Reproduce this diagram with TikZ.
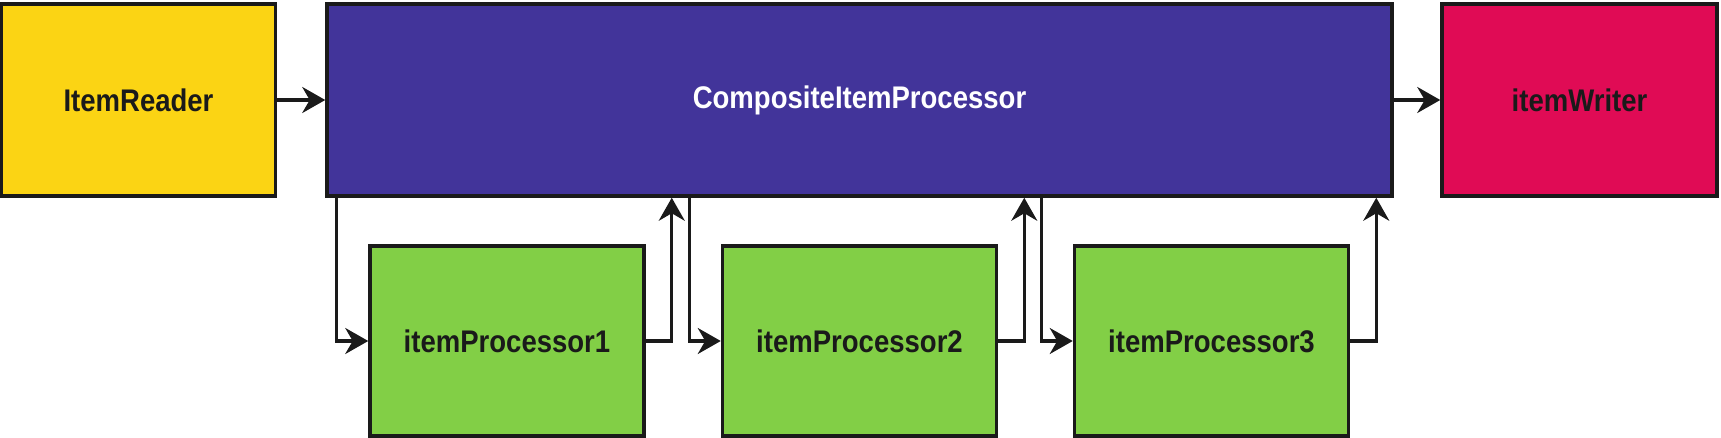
\documentclass[tikz,border=0pt]{standalone}
\usepackage{fontspec}
\setmainfont{Liberation Sans}[FakeStretch=0.88]
\usetikzlibrary{arrows.meta, positioning}

\definecolor{readeryellow}{HTML}{FBD414}
\definecolor{compositepurple}{HTML}{42349A}
\definecolor{writerred}{HTML}{E00B55}
\definecolor{processorgreen}{HTML}{82CF46}
\definecolor{linegray}{HTML}{1A1A1A}

\tikzset{
  stepbox/.style={draw=linegray, line width=2pt, minimum width=5.48cm, minimum height=3.8cm,
    font=\fontsize{17.8}{20}\selectfont\bfseries, text=linegray},
  flow/.style={draw=linegray, line width=1.8pt, -{Stealth[length=0.46cm, width=0.52cm]}},
}

\begin{document}
\begin{tikzpicture}
  \useasboundingbox (0,0) rectangle (34.42,-8.76);

  % obere Reihe
  \node[stepbox, fill=readeryellow, minimum height=3.84cm] (reader) at (2.77,-2.0) {ItemReader};
  \node[stepbox, fill=compositepurple, minimum width=21.3cm, minimum height=3.84cm, text=white] (composite) at (17.19,-2.0) {CompositeItemProcessor};
  \node[stepbox, fill=writerred, minimum width=5.5cm, minimum height=3.84cm] (writer) at (31.59,-2.0) {itemWriter};

  % untere Reihe
  \node[stepbox, fill=processorgreen] (proc1) at (10.14,-6.82) {itemProcessor1};
  \node[stepbox, fill=processorgreen] (proc2) at (17.19,-6.82) {itemProcessor2};
  \node[stepbox, fill=processorgreen] (proc3) at (24.23,-6.82) {itemProcessor3};

  % Pfeile
  \draw[flow] (reader) -- (composite);
  \draw[flow] (composite) -- (writer);
  \foreach \i in {1,2,3} {
    \coordinate (in\i) at ([xshift=-0.63cm]proc\i.west);
    \coordinate (out\i) at ([xshift=0.52cm]proc\i.east);
    \draw[flow] (in\i |- composite.south) |- (proc\i.west);
    \draw[flow] (proc\i.east) -| (out\i |- composite.south);
  }
\end{tikzpicture}
\end{document}
